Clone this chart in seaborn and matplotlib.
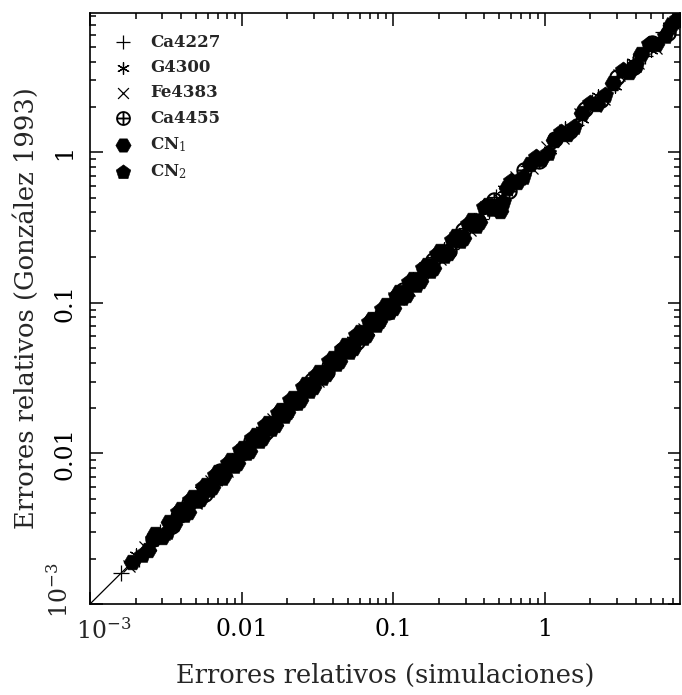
import numpy as np
import pandas as pd
import matplotlib
matplotlib.use("Agg")
import matplotlib.pyplot as plt
import matplotlib.ticker as mticker
import matplotlib.transforms as mtransforms
import seaborn as sns

sns.set_theme(style="ticks")
plt.rcParams['font.family'] = ['DejaVu Serif']
plt.rcParams['mathtext.fontset'] = 'dejavuserif'

# ---- data (relative errors: simulations vs Gonzalez 1993) ----
ca4227_x = [0.0016, 0.0021, 0.0029, 0.0037, 0.0047, 0.0060, 0.0075, 0.0095, 0.0120, 0.015, 0.019, 0.024, 0.030, 0.038, 0.048, 0.060, 0.076, 0.096, 0.12, 0.15, 0.19, 0.24, 0.30, 0.38, 0.48, 0.61, 0.77, 0.98, 1.25, 1.6, 2.05, 2.7, 3.5, 4.6, 6.0]
ca4227_y = [0.0016, 0.0020, 0.0030, 0.0035, 0.0049, 0.0057, 0.0079, 0.0090, 0.0126, 0.0143, 0.0200, 0.0228, 0.0315, 0.0361, 0.0504, 0.0570, 0.0798, 0.0912, 0.126, 0.143, 0.200, 0.228, 0.315, 0.361, 0.504, 0.58, 0.81, 0.93, 1.31, 1.52, 2.15, 2.57, 3.67, 4.37, 6.3]

g4300_x = [0.0020, 0.0025, 0.0034, 0.0043, 0.0054, 0.0068, 0.0086, 0.0108, 0.0136, 0.017, 0.0215, 0.027, 0.034, 0.043, 0.054, 0.068, 0.086, 0.108, 0.136, 0.17, 0.215, 0.27, 0.34, 0.43, 0.54, 0.68, 0.86, 1.08, 1.37, 1.75, 2.25, 2.9, 3.8, 5.0, 6.6]
g4300_y = [0.0021, 0.0024, 0.0036, 0.0041, 0.0057, 0.0065, 0.0090, 0.0103, 0.0143, 0.0162, 0.0226, 0.0257, 0.0357, 0.0409, 0.0567, 0.0646, 0.0903, 0.1026, 0.143, 0.162, 0.226, 0.257, 0.357, 0.409, 0.567, 0.646, 0.90, 1.03, 1.44, 1.66, 2.36, 2.76, 3.99, 4.75, 6.9]

fe4383_x = [0.0018, 0.0023, 0.0031, 0.0039, 0.0050, 0.0063, 0.0080, 0.010, 0.0127, 0.016, 0.020, 0.0255, 0.032, 0.040, 0.051, 0.064, 0.081, 0.102, 0.128, 0.162, 0.204, 0.256, 0.32, 0.41, 0.51, 0.65, 0.82, 1.03, 1.32, 1.7, 2.15, 2.45, 3.1, 4.1, 5.4, 7.0]
fe4383_y = [0.0018, 0.0024, 0.0029, 0.0041, 0.0047, 0.0066, 0.0076, 0.0105, 0.0121, 0.0168, 0.0190, 0.0268, 0.0304, 0.0420, 0.0485, 0.0672, 0.0770, 0.1071, 0.1216, 0.170, 0.194, 0.269, 0.304, 0.430, 0.485, 0.68, 0.78, 1.08, 1.25, 1.78, 2.04, 2.25, 3.25, 3.9, 4.9, 7.2]

ca4455_x = [0.0026, 0.0035, 0.0045, 0.0057, 0.0072, 0.0091, 0.0115, 0.0145, 0.0183, 0.023, 0.029, 0.0365, 0.046, 0.058, 0.073, 0.092, 0.116, 0.146, 0.184, 0.232, 0.29, 0.365, 0.46, 0.58, 0.73, 0.92, 1.16, 1.46, 1.85, 2.35, 3.0, 3.9, 5.1, 6.5]
ca4455_y = [0.0027, 0.0033, 0.0047, 0.0054, 0.0076, 0.0086, 0.0121, 0.0138, 0.0192, 0.0219, 0.0305, 0.0347, 0.0483, 0.0551, 0.0767, 0.0874, 0.1218, 0.1387, 0.193, 0.220, 0.305, 0.347, 0.483, 0.551, 0.767, 0.874, 1.22, 1.39, 1.94, 2.23, 3.15, 3.7, 5.35, 6.2]

cn1_x = [0.0019, 0.0024, 0.0027, 0.0030, 0.0033, 0.0036, 0.0040, 0.0044, 0.0048, 0.0053, 0.0058, 0.0064, 0.0070, 0.0077, 0.0085, 0.0093, 0.0102, 0.0112, 0.0124, 0.0136, 0.0150, 0.0165, 0.0182, 0.020, 0.022, 0.0243, 0.0268, 0.0295, 0.0325, 0.036, 0.040, 0.044, 0.049, 0.054, 0.060, 0.066, 0.073, 0.081, 0.090, 0.099, 0.110, 0.122, 0.135, 0.150, 0.166, 0.184, 0.205, 0.23, 0.26, 0.29, 0.33, 0.37, 0.42, 0.47, 0.51, 0.56, 0.66, 0.80, 0.95, 1.15, 1.4, 1.75, 2.2, 2.8, 3.6, 4.3, 5.4, 6.8, 7.6]
cn1_y = [0.0019, 0.0023, 0.0029, 0.0028, 0.0035, 0.0034, 0.0043, 0.0041, 0.0051, 0.0050, 0.0062, 0.0060, 0.0075, 0.0072, 0.0091, 0.0087, 0.0109, 0.0104, 0.0133, 0.0127, 0.0160, 0.0154, 0.0195, 0.0187, 0.0235, 0.0226, 0.0287, 0.0274, 0.0348, 0.0335, 0.0428, 0.0409, 0.0524, 0.0502, 0.0642, 0.0614, 0.0781, 0.0753, 0.0963, 0.0921, 0.1177, 0.1135, 0.1445, 0.1395, 0.1776, 0.1711, 0.2194, 0.214, 0.278, 0.270, 0.353, 0.344, 0.449, 0.437, 0.41, 0.58, 0.63, 0.84, 0.90, 1.20, 1.33, 1.82, 2.09, 2.9, 3.4, 4.5, 5.2, 7.0, 7.5]

cn2_x = [0.0022, 0.0026, 0.0032, 0.0038, 0.0042, 0.0046, 0.0051, 0.0056, 0.0061, 0.0067, 0.0074, 0.0081, 0.0089, 0.0098, 0.0107, 0.0118, 0.0130, 0.0143, 0.0157, 0.0173, 0.019, 0.021, 0.0232, 0.0255, 0.028, 0.031, 0.034, 0.038, 0.042, 0.046, 0.051, 0.057, 0.063, 0.069, 0.077, 0.085, 0.094, 0.104, 0.115, 0.128, 0.142, 0.158, 0.175, 0.195, 0.218, 0.245, 0.275, 0.31, 0.35, 0.40, 0.45, 0.53, 0.60, 0.72, 0.87, 1.05, 1.28, 1.55, 2.0, 2.5, 3.3, 4.0, 4.9, 6.2, 7.4]
cn2_y = [0.0021, 0.0027, 0.0030, 0.0041, 0.0039, 0.0049, 0.0048, 0.0060, 0.0057, 0.0072, 0.0069, 0.0087, 0.0083, 0.0105, 0.0100, 0.0127, 0.0121, 0.0154, 0.0146, 0.0186, 0.0177, 0.0226, 0.0216, 0.0274, 0.0261, 0.0333, 0.0316, 0.0409, 0.0391, 0.0494, 0.0474, 0.0613, 0.0586, 0.0742, 0.0716, 0.0914, 0.0874, 0.1118, 0.107, 0.1376, 0.132, 0.1699, 0.163, 0.2096, 0.203, 0.263, 0.256, 0.333, 0.326, 0.43, 0.42, 0.47, 0.64, 0.68, 0.93, 0.99, 1.36, 1.47, 2.12, 2.38, 3.5, 3.8, 5.2, 5.9, 7.7]

series_names = ["Ca4227", "G4300", "Fe4383", "Ca4455", r"CN$_1$", r"CN$_2$"]
tick_values = [1e-3, 1e-2, 1e-1, 1.0]
tick_texts = [r'$10^{-3}$', '0.01', '0.1', '1']
xlim = [1e-3, 7.8]
ylim = [1e-3, 8.4]

series = [
    (ca4227_x, ca4227_y, '+', 120, 0.9),
    (g4300_x, g4300_y, (6, 2, 0), 90, 0.9),
    (fe4383_x, fe4383_y, 'x', 75, 0.9),
    (ca4455_x, ca4455_y, r'$\oplus$', 140, 0.0),
    (cn1_x, cn1_y, 'H', 150, 0.4),
    (cn2_x, cn2_y, 'p', 150, 0.4),
]

fig = plt.figure(figsize=(6.82, 6.95), dpi=100)
ax = fig.add_axes([90/682, 91/695, 590/682, 591/695])

for (xs, ys, mk, s, lw), name in zip(series, series_names):
    df = pd.DataFrame({"x": xs, "y": ys})
    sns.scatterplot(data=df, x="x", y="y", marker=mk, s=s, color='black',
                    edgecolor='black', linewidth=lw, label=name, ax=ax, zorder=3)

ax.set_xscale('log')
ax.set_yscale('log')
ax.set_xlim(*xlim)
ax.set_ylim(*ylim)
ax.axline((xlim[0], xlim[0]), (tick_values[-1], tick_values[-1]),
          color='black', lw=0.9, zorder=2)

labels = dict(zip(tick_values[1:], tick_texts[1:]))
def fmt(v, pos):
    for k, t in labels.items():
        if abs(np.log10(v) - np.log10(k)) < 1e-6:
            return t
    return ''

for axis in (ax.xaxis, ax.yaxis):
    axis.set_major_locator(mticker.LogLocator(base=10, numticks=10))
    axis.set_minor_locator(mticker.LogLocator(base=10, subs=np.arange(2, 10), numticks=10))
    axis.set_major_formatter(mticker.FuncFormatter(fmt))
    axis.set_minor_formatter(mticker.NullFormatter())

ax.tick_params(which='both', direction='in', top=True, right=True, width=1.1, colors='black')
ax.tick_params(which='major', length=9, labelsize=17, pad=10)
ax.tick_params(which='minor', length=4)
for lab in ax.get_yticklabels():
    lab.set_rotation(90)
    lab.set_va('center')
for sp in ax.spines.values():
    sp.set_linewidth(1.2)
    sp.set_color('black')

# the 10^-3 labels, with the "10" centred on the tick as in the original
tx = mtransforms.offset_copy(ax.get_xaxis_transform(), fig=fig, x=-14, y=-14, units='dots')
ax.text(tick_values[0], 0, tick_texts[0], transform=tx, ha='left', va='top', fontsize=17)
ty = mtransforms.offset_copy(ax.get_yaxis_transform(), fig=fig, x=-17, y=-14, units='dots')
ax.text(0, tick_values[0], tick_texts[0], transform=ty, ha='right', va='bottom',
        rotation=90, fontsize=17)

ax.set_xlabel('Errores relativos (simulaciones)', fontsize=18.5, labelpad=16)
ax.set_ylabel('Errores relativos (González 1993)', fontsize=18.5, labelpad=10)

leg = ax.legend(loc='upper left', bbox_to_anchor=(0.0, 0.993), frameon=False,
                prop={'size': 12, 'weight': 'bold'}, handletextpad=0.6,
                labelspacing=0.5, borderaxespad=0.6, markerscale=0.9)

fig.savefig('out.png', dpi=100, facecolor='white')
